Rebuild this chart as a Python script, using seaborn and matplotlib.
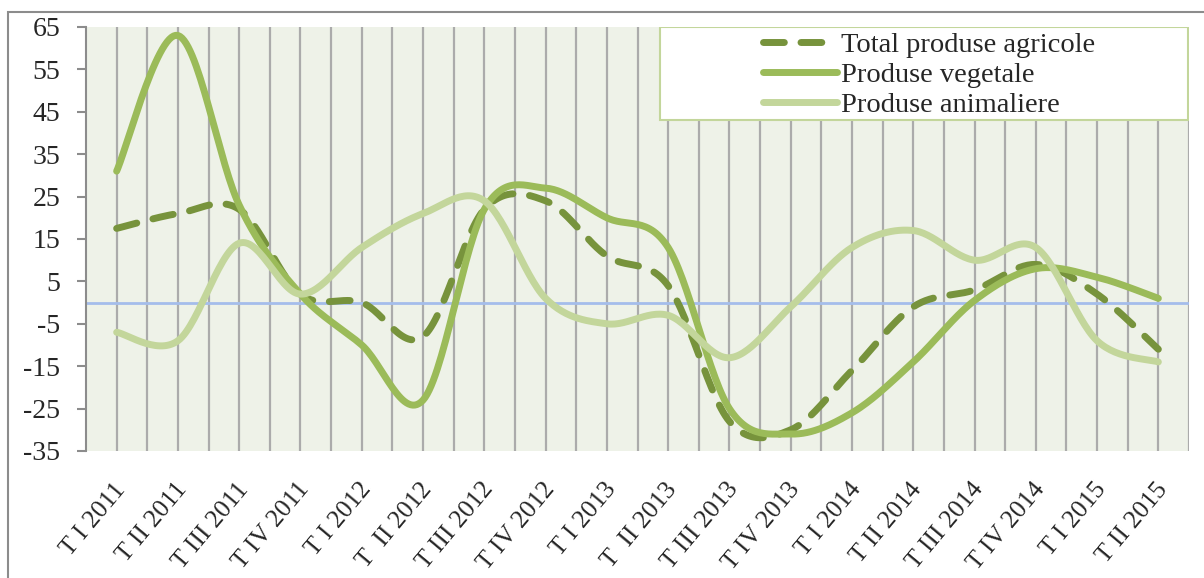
import numpy as np
import pandas as pd
import matplotlib.pyplot as plt
import seaborn as sns
from matplotlib.lines import Line2D
from matplotlib.patches import Rectangle
import matplotlib.transforms as mtransforms

# categorii (trimestre)
quarters = ["T I 2011", "T II 2011", "T III 2011", "T IV 2011",
            "T I 2012", "T  II 2012", "T III 2012", "T IV 2012",
            "T I 2013", "T  II 2013", "T III 2013", "T IV 2013",
            "T I 2014", "T II 2014", "T III 2014", "T IV 2014",
            "T I 2015", "T II 2015"]

total = [17.5, 21, 22, 2, 0, -8, 22, 24, 11, 4, -28, -30,
         -16, -1, 3, 9, 2, -11]
vegetale = [31, 63, 23, 2, -10, -23, 22, 27, 20, 13, -25, -31,
            -26, -14, 0.5, 8, 6, 1]
animaliere = [-7, -9, 14, 2, 13, 21, 24, 1, -5, -3, -13, -1,
              13, 17, 10, 13, -9, -14]

series_names = ["Total produse agricole", "Produse vegetale", "Produse animaliere"]
colors = ["#77933C", "#9BBB59", "#C3D69B"]
yticks = [-35, -25, -15, -5, 5, 15, 25, 35, 45, 55, 65]
ytick_labels = ["-35", "-25", "-15", "-5", "5", "15", "25", "35", "45", "55", "65"]


def smooth(vals, n=30):
    # linie netezita ca in Excel (Bezier Catmull-Rom intre puncte)
    p = np.column_stack([np.arange(len(vals)), np.asarray(vals, float)])
    p = np.vstack([p[0], p, p[-1]])
    out = []
    for i in range(1, len(p) - 2):
        p0, p1, p2, p3 = p[i - 1], p[i], p[i + 1], p[i + 2]
        c1 = p1 + (p2 - p0) / 6
        c2 = p2 - (p3 - p1) / 6
        t = np.linspace(0, 1, n, endpoint=False)[:, None]
        out.append((1 - t) ** 3 * p1 + 3 * (1 - t) ** 2 * t * c1
                   + 3 * (1 - t) * t ** 2 * c2 + t ** 3 * p2)
    out.append(p[-2][None, :])
    return np.vstack(out)


frames = []
for name, vals in zip(series_names, [total, vegetale, animaliere]):
    s = smooth(vals)
    frames.append(pd.DataFrame({"x": s[:, 0], "y": s[:, 1], "serie": name}))
df = pd.concat(frames, ignore_index=True)

sns.set_style("white")
plt.rcParams["font.family"] = ["Liberation Serif", "DejaVu Serif"]
plt.rcParams["axes.unicode_minus"] = False
plt.rcParams["lines.dash_capstyle"] = "round"
plt.rcParams["lines.solid_capstyle"] = "round"

fig = plt.figure(figsize=(12.04, 5.78), dpi=100)
ax = fig.add_axes([86 / 1204, 1 - 451 / 578, 1103 / 1204, 424 / 578])
ax.set_facecolor("#EEF2E8")

sns.lineplot(data=df, x="x", y="y", hue="serie", style="serie",
             hue_order=series_names, style_order=series_names,
             palette=dict(zip(series_names, colors)),
             dashes={series_names[0]: (3, 2.4), series_names[1]: "", series_names[2]: ""},
             linewidth=5, estimator=None, sort=False, legend=False, ax=ax, zorder=3)

ax.axhline(0, color="#A4BDEB", lw=2, zorder=2)

ax.set_xlim(-0.5, 17.5)
ax.set_ylim(-35, 65)
ax.set_xticks(np.arange(len(quarters)))
ax.set_xticks(np.arange(len(quarters)) + 0.5, minor=True)
ax.set_xticklabels(quarters, rotation=50, ha="right", va="center",
                   rotation_mode="anchor", fontsize=18.5)
ax.set_yticks(yticks)
ax.set_yticklabels(ytick_labels, fontsize=20)
ax.grid(False)
ax.grid(True, axis="x", which="both", color="#ABABAB", lw=1.6, zorder=1)
ax.set_axisbelow(True)
ax.tick_params(axis="x", which="both", length=0, pad=25)
ax.tick_params(axis="y", length=6.5, width=1.5, color="#8C8C8C", direction="out", pad=12, left=True)
offset = mtransforms.ScaledTranslation(5 / 100, 0, fig.dpi_scale_trans)
for lab in ax.get_xticklabels():
    lab.set_transform(lab.get_transform() + offset)
ax.set_xlabel("")
ax.set_ylabel("")
for side in ["top", "right", "bottom"]:
    ax.spines[side].set_visible(False)
ax.spines["left"].set_color("#8C8C8C")
ax.spines["left"].set_linewidth(1.5)

# caseta legendei
box = Rectangle((0.520, 0.781), 0.479, 0.219, transform=ax.transAxes,
                facecolor="white", edgecolor="#C3D69B", lw=1.5, zorder=8)
ax.add_patch(box)
handles = [Line2D([], [], color=colors[0], lw=5, dashes=(3, 2.4)),
           Line2D([], [], color=colors[1], lw=5),
           Line2D([], [], color=colors[2], lw=5)]
leg = ax.legend(handles, series_names, loc="upper left",
                bbox_to_anchor=((760 - 86) / 1103, 0.995), frameon=False,
                fontsize=20.5, handlelength=2.6, handletextpad=0.15,
                labelspacing=0.15, borderpad=0.1, borderaxespad=0)
leg.set_zorder(10)

# chenarul exterior
fig.patches.append(Rectangle((8 / 1204, -0.1), 1.2, 1 - 12 / 578 + 0.1,
                             transform=fig.transFigure, fill=False,
                             edgecolor="#8C8C8C", lw=1.5))

fig.savefig("out.png", dpi=100)
